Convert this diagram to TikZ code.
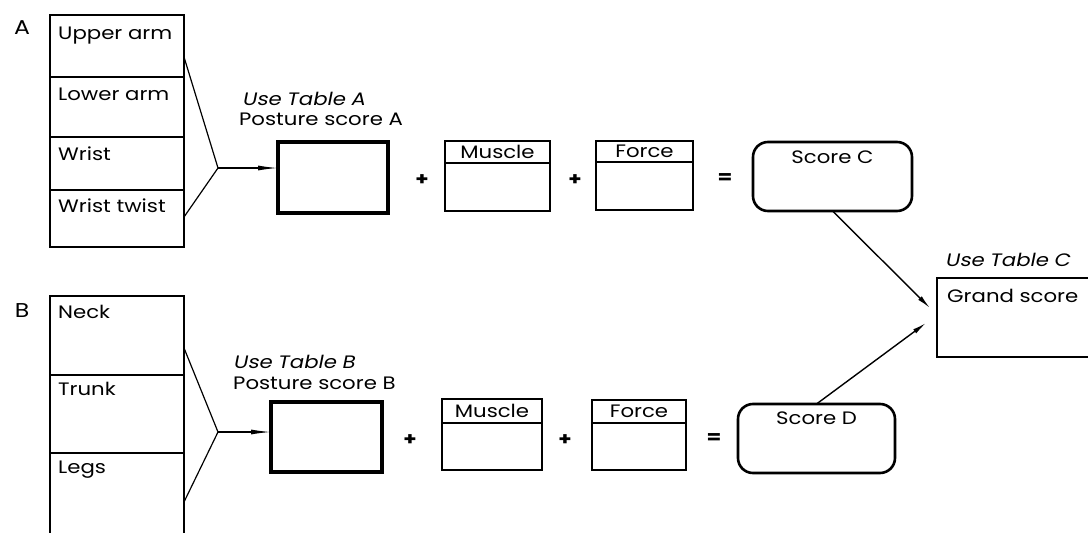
\documentclass[tikz,border=0pt]{standalone}
\usepackage{fontspec}
\setmainfont{Poppins}[FakeStretch=1.18, ItalicFont=Poppins, ItalicFeatures={FakeSlant=0.2}]
\usetikzlibrary{arrows.meta,positioning}

\newcommand\txtsize{\fontsize{18}{20}\selectfont}
\tikzset{
  cell/.style={draw, line width=2.4pt, minimum width=134pt, inner sep=0pt, outer sep=0pt, anchor=north west},
  celltxt/.style={anchor=base west, inner sep=0pt},
  tag/.style={inner sep=0pt},
  part/.style={inner sep=0pt, font=\fontsize{20}{22}\selectfont},
  note/.style={anchor=west, inner sep=0pt},
  postbox/.style={draw, line width=3.4pt, inner sep=0pt, outer sep=0pt, anchor=north west},
  hdr/.style={draw, line width=2.2pt, inner sep=0pt, outer sep=0pt, anchor=north west},
  body/.style={draw, line width=2.2pt, inner sep=0pt, outer sep=0pt},
  scorebox/.style={draw, line width=2.6pt, rounded corners=15pt, inner sep=0pt, outer sep=0pt, anchor=north west},
  grandbox/.style={draw, line width=2.6pt, inner sep=0pt, outer sep=0pt, anchor=north west},
  op/.style={inner sep=0pt, font=\txtsize\bfseries},
  fan/.style={line width=1.2pt},
  arr/.style={line width=1.4pt, ->}
}

\begin{document}
\begin{tikzpicture}[x=1pt, y=-1pt, >={Latex[length=14pt,width=5pt]}, font=\txtsize]
  \useasboundingbox (0,0) rectangle (1088,533);
  \clip (0,0) rectangle (1088,533);

  % A: arm and wrist
  \node[part] (tA) at (22,28) {A};
  \node[cell, minimum height=62] (ua) at (50,15) {};
  \node[cell, minimum height=60] (la) at (50,77) {};
  \node[cell, minimum height=53] (wr) at (50,137) {};
  \node[cell, minimum height=57] (wt) at (50,190) {};
  \node[celltxt] (uaT) at ([shift={(8,24)}]ua.north west) {Upper arm};
  \node[celltxt] (laT) at ([shift={(8,23)}]la.north west) {Lower arm};
  \node[celltxt] (wrT) at ([shift={(8,23)}]wr.north west) {Wrist};
  \node[celltxt] (wtT) at ([shift={(8,22)}]wt.north west) {Wrist twist};

  % B: neck, trunk and legs
  \node[part] (tB) at (22,311) {B};
  \node[cell, minimum height=79] (nk) at (50,296) {};
  \node[cell, minimum height=78] (tr) at (50,375) {};
  \node[cell, minimum height=100] (lg) at (50,453) {};
  \node[celltxt] (nkT) at ([shift={(8,22)}]nk.north west) {Neck};
  \node[celltxt] (trT) at ([shift={(8,20)}]tr.north west) {Trunk};
  \node[celltxt] (lgT) at ([shift={(8,20)}]lg.north west) {Legs};

  % fans into posture scores
  \coordinate (fA1) at (184,57);  \coordinate (fA2) at (184,217);
  \coordinate (apA) at (218,168);
  \coordinate (fB1) at (184,348); \coordinate (fB2) at (184,502);
  \coordinate (apB) at (218,432);

  % row A
  \node[note] (useA) at (242,99) {\itshape Use Table A};
  \node[note] (psAT) at (239,119) {Posture score A};
  \node[postbox, minimum width=110, minimum height=71] (psA) at (278,142) {};
  \node[op] (plA1) at (422,180) {+};
  \node[hdr, minimum width=105, minimum height=22] (muA) at (445,141) {Muscle};
  \node[body, minimum width=105, minimum height=48, below=0pt of muA] (muAb) {};
  \node[op] (plA2) at (575,180) {+};
  \node[hdr, minimum width=97, minimum height=21] (foA) at (596,141) {Force};
  \node[body, minimum width=97, minimum height=48, below=0pt of foA] (foAb) {};
  \node[op] (eqA) at (725,179) {=};
  \node[scorebox, minimum width=159, minimum height=69] (scC) at (753,142) {};
  \node[tag] (scCT) at ([shift={(0,15)}]scC.north) {Score C};

  % row B
  \node[note] (useB) at (233,362) {\itshape Use Table B};
  \node[note] (psBT) at (233,383) {Posture score B};
  \node[postbox, minimum width=111, minimum height=70] (psB) at (271,402) {};
  \node[op] (plB1) at (410,440) {+};
  \node[hdr, minimum width=100, minimum height=24] (muB) at (442,399) {Muscle};
  \node[body, minimum width=100, minimum height=47, below=0pt of muB] (muBb) {};
  \node[op] (plB2) at (565,440) {+};
  \node[hdr, minimum width=94, minimum height=23] (foB) at (592,400) {Force};
  \node[body, minimum width=94, minimum height=47, below=0pt of foB] (foBb) {};
  \node[op] (eqB) at (714,439) {=};
  \node[scorebox, minimum width=157, minimum height=69] (scD) at (738,404) {};
  \node[tag] (scDT) at ([shift={(0,14)}]scD.north) {Score D};

  % grand score
  \node[note] (useC) at (945,260) {\itshape Use Table C};
  \node[grandbox, minimum width=160, minimum height=79] (gs) at (937,278) {};
  \node[note] (gsT) at ([shift={(10,18)}]gs.north west) {Grand score};
  \coordinate (gC) at (930,308);
  \coordinate (gD) at (926,323);

  % connectors
  \draw[fan] (fA1) -- (apA) -- (fA2);
  \draw[fan, ->, >={Latex[length=20pt,width=5pt]}] (apA) -- (psA.west |- apA);
  \draw[fan] (fB1) -- (apB) -- (fB2);
  \draw[fan, ->, >={Latex[length=20pt,width=5pt]}] (apB) -- (psB.west |- apB);
  \draw[arr] (scC.south) -- (gC);
  \draw[arr] (scD.north) -- (gD);
\end{tikzpicture}
\end{document}
